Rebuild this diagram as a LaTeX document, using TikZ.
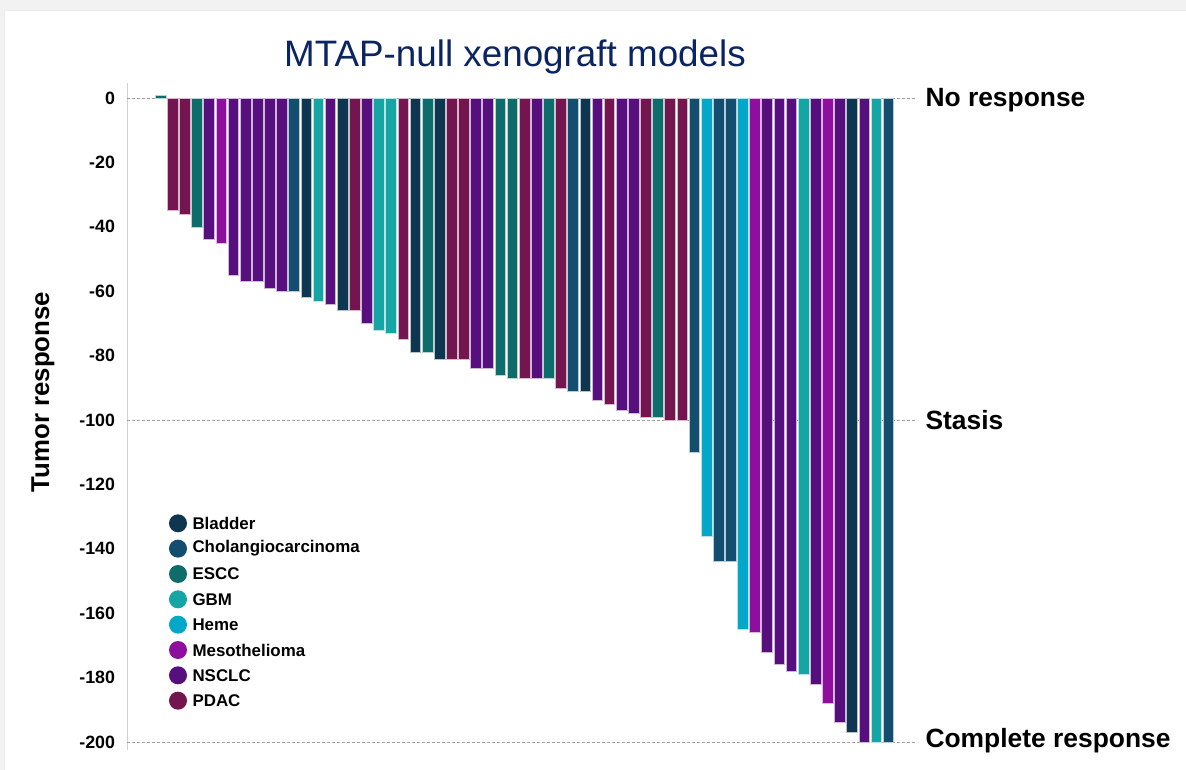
\documentclass[tikz,border=0pt]{standalone}
\usepackage{fontspec}
\setmainfont{Liberation Sans}
\definecolor{cB}{HTML}{0E3651}
\definecolor{cC}{HTML}{134E70}
\definecolor{cE}{HTML}{0E6D6B}
\definecolor{cG}{HTML}{15A5A5}
\definecolor{cH}{HTML}{03A8C8}
\definecolor{cM}{HTML}{8E0F9E}
\definecolor{cN}{HTML}{560F7C}
\definecolor{cP}{HTML}{731650}
\definecolor{titlecol}{HTML}{0B2462}
\definecolor{bggray}{HTML}{F2F2F2}
\tikzset{
  tick/.style={anchor=east,font=\bfseries\fontsize{17.8}{17.8}\selectfont},
  zone/.style={anchor=base west,font=\bfseries\fontsize{26.4}{26.4}\selectfont},
  legtext/.style={anchor=west,font=\bfseries\fontsize{16.9}{16.9}\selectfont},
  refline/.style={gray!75,dashed,dash pattern=on 3pt off 2pt,line width=0.8pt},
  barstyle/.style={draw=white!70!#1,fill=#1,line width=0.5pt},
}
\begin{document}
\begin{tikzpicture}[x=1pt,y=-1pt]
\useasboundingbox (0,0) rectangle (1186,770);
\fill[bggray] (0,0) rectangle (1186,770);
\fill[gray!15] (4,10) rectangle (1186,770);
\fill[white] (5,11) rectangle (1186,770);
% title
\node[anchor=base,text=titlecol,font=\fontsize{36.8}{36.8}\selectfont] (title) at (515,66.7) {MTAP-null xenograft models};
% axis
\draw[gray!35,line width=0.8pt] (127,83) -- (127,750);
% reference lines
\coordinate (l0a) at (127,98); \coordinate (l0b) at (915,98);
\coordinate (l1a) at (127,420); \coordinate (l1b) at (915,420);
\coordinate (l2a) at (127,742); \coordinate (l2b) at (915,742);
\draw[refline] (l0a) -- (l0b);
\draw[refline] (l1a) -- (l1b);
\draw[refline] (l2a) -- (l2b);
% bars
\foreach \i/\c/\v in {1/cE/1,2/cP/-35,3/cP/-36,4/cE/-40,5/cN/-44,6/cM/-45,7/cN/-55,8/cN/-57,9/cN/-57,10/cN/-59,
 11/cN/-60,12/cC/-60,13/cB/-62,14/cG/-63,15/cN/-64,16/cB/-66,17/cP/-66,18/cN/-70,19/cG/-72,20/cG/-73,
 21/cP/-75,22/cB/-79,23/cE/-79,24/cB/-81,25/cP/-81,26/cP/-81,27/cN/-84,28/cN/-84,29/cE/-86,30/cE/-87,
 31/cP/-87,32/cN/-87,33/cE/-87,34/cP/-90,35/cC/-91,36/cB/-91,37/cN/-94,38/cP/-95,39/cN/-97,40/cN/-98,
 41/cP/-99,42/cE/-99,43/cP/-100,44/cP/-100,45/cC/-110,46/cH/-136,47/cC/-144,48/cC/-144,49/cH/-165,50/cM/-166,
 51/cN/-172,52/cN/-176,53/cN/-178,54/cG/-179,55/cN/-182,56/cM/-188,57/cN/-194,58/cB/-197,59/cN/-200,60/cG/-200,
 61/cC/-200}{
  \path[barstyle=\c] ({155.2+(\i-1)*12.13},98) rectangle ({165.9+(\i-1)*12.13},{98-3.22*\v});
}
% tick labels
\foreach \k in {0,1,...,10}{
  \pgfmathtruncatemacro{\lab}{-20*\k}
  \node[tick] (t\k) at (118.5,{98+64.4*\k}) {\lab};
}
% axis title
\node[rotate=90,font=\bfseries\fontsize{25.8}{25.8}\selectfont] (ytitle) at (43,392) {Tumor response};
% zone labels
\node[zone] (nr) at (922,107) {No response};
\node[zone] (st) at (922,429) {Stasis};
\node[zone] (cr) at (922,747) {Complete response};
% legend
\foreach \j/\c/\t in {0/cB/Bladder,1/cC/Cholangiocarcinoma,2/cE/ESCC,3/cG/GBM,4/cH/Heme,5/cM/Mesothelioma,6/cN/NSCLC,7/cP/PDAC}{
  \fill[\c] (178,{523.3+25.34*\j}) circle (9);
  \node[legtext] (leg\j) at (189,{523.3+25.34*\j}) {\t};
}
\end{tikzpicture}
\end{document}
